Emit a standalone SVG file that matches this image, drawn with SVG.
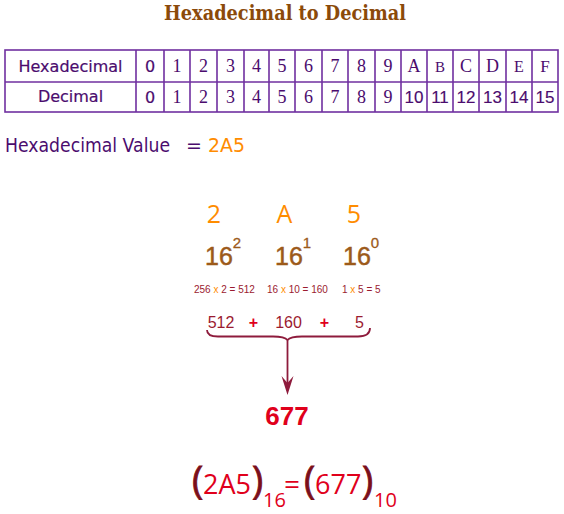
<svg xmlns="http://www.w3.org/2000/svg" width="564" height="514" viewBox="0 0 564 514">
<style>
.title{font-family:"DejaVu Serif","Liberation Serif",serif;font-weight:bold;font-size:20px;fill:#8B4A0A}
.grid{fill:none;stroke:#7030A0;stroke-width:1.6}
.lbl{font-family:"DejaVu Sans",sans-serif;font-size:16px;fill:#4B0C6E;text-anchor:middle;stroke:#4B0C6E;stroke-width:0.2}
.ser{font-family:"Liberation Serif","DejaVu Serif",serif;font-size:18px;fill:#4B0C6E;text-anchor:middle}
.san{font-family:"Liberation Sans",sans-serif;font-size:17px;fill:#4B0C6E;text-anchor:middle;stroke:#4B0C6E;stroke-width:0.15}
.hv{font-family:"DejaVu Sans",sans-serif;font-size:19px;fill:#4B0C6E}
.or{fill:#FF8C00}
.big{font-family:"Open Sans",sans-serif;font-size:25px;fill:#FF8C00;text-anchor:middle}
.pow{font-family:"Liberation Sans",sans-serif;font-size:25px;fill:#9C5A1A;stroke:#9C5A1A;stroke-width:0.5}
.sup{font-size:15px;stroke-width:0.3}
.eq{font-family:"Liberation Sans",sans-serif;font-size:10px;fill:#9B1B30}
.sum{font-family:"Liberation Sans",sans-serif;font-size:16px;fill:#9B1B30;text-anchor:middle}
.plus{font-family:"Liberation Sans",sans-serif;font-size:16px;font-weight:bold;fill:#E0001B;text-anchor:middle}
.res{font-family:"Liberation Sans",sans-serif;font-size:26px;font-weight:bold;fill:#E0001B;text-anchor:middle}
.fin{font-family:"Open Sans",sans-serif;font-size:28px;fill:#E0001B}
.par{font-size:38px;fill:#7B0F1A;stroke:#7B0F1A;stroke-width:0.8}
.sub{font-size:20px}
.conn{fill:none;stroke:#8E1B3C;stroke-width:1.8}
</style>
<g id="title"><text class="title" x="285" y="20" text-anchor="middle" textLength="242" lengthAdjust="spacingAndGlyphs">Hexadecimal to Decimal</text></g>
<g id="table">
<rect class="grid" x="5" y="50" width="553" height="62"/>
<path class="grid" d="M5,82H558M136,50V112M164,50V112M190,50V112M217,50V112M244,50V112M269,50V112M295,50V112M322,50V112M348,50V112M375,50V112M401,50V112M427,50V112M453,50V112M479,50V112M506,50V112M532,50V112"/>
<text class="lbl" x="70.5" y="72">Hexadecimal</text>
<text class="lbl" x="70.5" y="102">Decimal</text>
<text class="lbl" x="150" y="72">0</text>
<text class="ser" x="177" y="72">1</text>
<text class="ser" x="203.5" y="72">2</text>
<text class="ser" x="230.5" y="72">3</text>
<text class="ser" x="256.5" y="72">4</text>
<text class="ser" x="282" y="72">5</text>
<text class="ser" x="308.5" y="72">6</text>
<text class="ser" x="335" y="72">7</text>
<text class="ser" x="361.5" y="72">8</text>
<text class="ser" x="388" y="72">9</text>
<text class="ser" x="414" y="72">A</text>
<text class="ser" x="440" y="72" style="font-size:15px">B</text>
<text class="ser" x="466" y="72">C</text>
<text class="ser" x="492.5" y="72">D</text>
<text class="ser" x="519" y="72" style="font-size:16px">E</text>
<text class="ser" x="545" y="72" style="font-size:17px">F</text>
<text class="lbl" x="150" y="103">0</text>
<text class="ser" x="177" y="103">1</text>
<text class="ser" x="203.5" y="103">2</text>
<text class="ser" x="230.5" y="103">3</text>
<text class="ser" x="256.5" y="103">4</text>
<text class="ser" x="282" y="103">5</text>
<text class="ser" x="308.5" y="103">6</text>
<text class="ser" x="335" y="103">7</text>
<text class="ser" x="361.5" y="103">8</text>
<text class="ser" x="388" y="103">9</text>
<text class="san" x="414" y="103">10</text>
<text class="san" x="440" y="103">11</text>
<text class="san" x="466" y="103">12</text>
<text class="san" x="492.5" y="103">13</text>
<text class="san" x="519" y="103">14</text>
<text class="san" x="545" y="103">15</text>
</g>
<g id="hexvalue">
<text class="hv" x="5" y="152" textLength="165" lengthAdjust="spacingAndGlyphs">Hexadecimal Value</text>
<text class="hv" x="186" y="152">=</text>
<text class="hv or" x="208" y="152" textLength="37" lengthAdjust="spacingAndGlyphs">2A5</text>
</g>
<g id="digits">
<text class="big" x="214" y="223">2</text>
<text class="big" x="284.5" y="223">A</text>
<text class="big" x="354" y="223">5</text>
</g>
<g id="powers">
<text class="pow" x="205" y="265">16<tspan class="sup" dy="-17">2</tspan></text>
<text class="pow" x="275" y="265">16<tspan class="sup" dy="-17">1</tspan></text>
<text class="pow" x="343" y="265">16<tspan class="sup" dy="-17">0</tspan></text>
</g>
<g id="products">
<text class="eq" x="194" y="293">256 <tspan class="or">x</tspan> 2 = 512</text>
<text class="eq" x="267" y="293">16 <tspan class="or">x</tspan> 10 = 160</text>
<text class="eq" x="342" y="293">1 <tspan class="or">x</tspan> 5 = 5</text>
</g>
<g id="sum">
<text class="sum" x="221" y="328">512</text>
<text class="plus" x="253.5" y="328">+</text>
<text class="sum" x="288.5" y="328">160</text>
<text class="plus" x="324.5" y="328">+</text>
<text class="sum" x="359.5" y="328">5</text>
</g>
<g id="connectors">
<path class="conn" d="M207,330C207,335 211,336.5 218,336.5L273,336.5C281,336.5 285,337 287.5,340C290,337 294,336.5 302,336.5L358,336.5C366,336.5 370,334 370,328"/>
<path class="conn" d="M287.5,340V384"/>
<polygon points="281.5,376 287.5,395 293.5,376 287.5,383" fill="#8E1B3C"/>
</g>
<g id="result"><text class="res" x="287" y="425">677</text></g>
<g id="equation">
<text class="fin" y="494"><tspan class="par" x="192">(</tspan><tspan x="203" textLength="48" lengthAdjust="spacingAndGlyphs">2A5</tspan><tspan class="par" x="252">)</tspan><tspan class="sub" x="263" y="507">16</tspan><tspan x="284" y="494">=</tspan><tspan class="par" x="304">(</tspan><tspan x="315" style="font-size:27px">677</tspan><tspan class="par" x="362">)</tspan><tspan class="sub" x="374" y="507">10</tspan></text>
</g>
</svg>
